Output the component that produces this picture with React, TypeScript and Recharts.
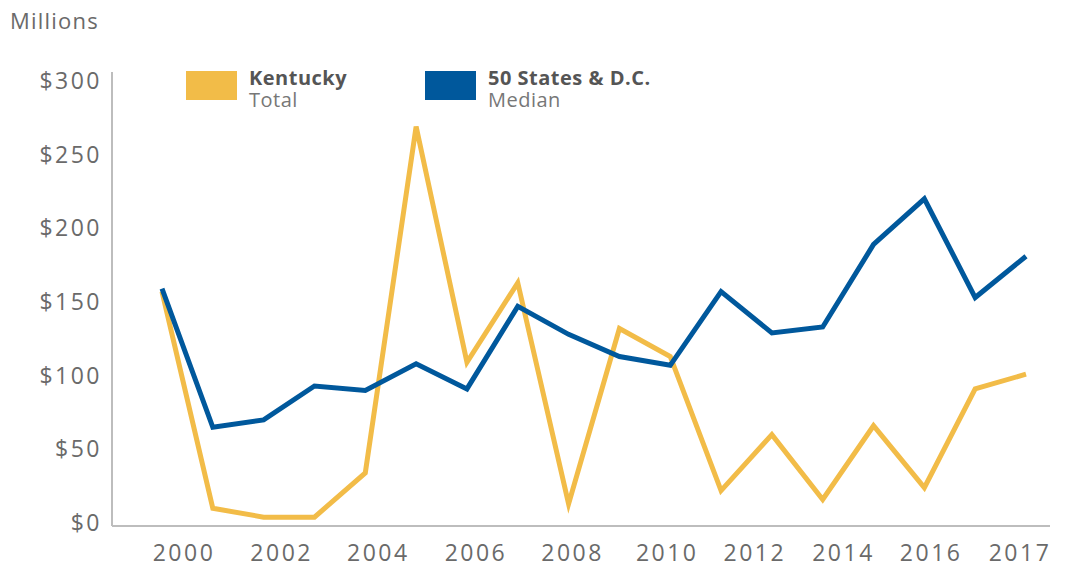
import React from 'react';
import { LineChart, Line, XAxis, YAxis } from 'recharts';

// years on the horizontal axis
const years = [
  2000, 2001, 2002, 2003, 2004, 2005, 2006, 2007, 2008,
  2009, 2010, 2011, 2012, 2013, 2014, 2015, 2016, 2017,
];
// Kentucky total, $ millions
const kentuckyTotal = [157, 10, 4, 4, 34, 269, 109, 163, 13, 132, 113, 22, 60, 16, 66, 24, 91, 101];
// 50 states & D.C. median, $ millions
const statesMedian = [159, 65, 70, 93, 90, 108, 91, 147, 128, 113, 107, 157, 129, 133, 189, 220, 153, 181];

const yTicks = [0, 50, 100, 150, 200, 250, 300];
const xTicks = [2000, 2002, 2004, 2006, 2008, 2010, 2012, 2014, 2016, 2017];

const data = years.map((year, i) => ({
  year,
  kentucky: kentuckyTotal[i],
  median: statesMedian[i],
}));

const YELLOW = '#F2BC48';
const BLUE = '#00589C';
const TEXT = '#6a6a6a';
const FONT = '"Open Sans", sans-serif';

// the year labels in the source sit a little off their data points
const labelShift: Record<number, number> = {
  2000: 22, 2002: 18, 2004: 13, 2006: 9, 2008: 4,
  2010: -3, 2012: -17, 2014: -30, 2016: -44, 2017: -6,
};

const XTick = (props: any) => {
  const { x, y, payload } = props;
  return (
    <text
      x={x + (labelShift[payload.value] ?? 0)}
      y={y + 35}
      textAnchor="middle"
      fill={TEXT}
      fontSize={23}
      fontFamily={FONT}
      letterSpacing={2.5}
    >
      {payload.value}
    </text>
  );
};

const YTick = (props: any) => {
  const { x, y, payload } = props;
  return (
    <text
      x={x}
      y={y + 8}
      textAnchor="end"
      fill={TEXT}
      fontSize={23}
      fontFamily={FONT}
      letterSpacing={2.5}
    >
      ${payload.value}
    </text>
  );
};

const LegendItem = ({ left, color, title, sub }: { left: number; color: string; title: string; sub: string }) => (
  <div style={{ position: 'absolute', left, top: 71, display: 'flex', fontFamily: FONT }}>
    <div style={{ width: 51, height: 29, background: color, marginRight: 12 }} />
    <div style={{ marginTop: -4 }}>
      <div style={{ fontWeight: 700, fontSize: 20, lineHeight: '22px', color: '#555', letterSpacing: 0.5 }}>{title}</div>
      <div style={{ fontSize: 20, lineHeight: '22px', color: '#777', letterSpacing: 0.5 }}>{sub}</div>
    </div>
  </div>
);

const App: React.FC = () => {
  return (
    <div style={{ position: 'absolute', left: 0, top: 0, width: 1065, height: 566, background: '#fff' }}>
      <div
        style={{
          position: 'absolute',
          left: 10,
          top: 5,
          fontFamily: FONT,
          fontSize: 22,
          color: TEXT,
          letterSpacing: 1.2,
        }}
      >
        Millions
      </div>
      <LineChart width={1065} height={566} data={data} margin={{ top: 72, right: 15, bottom: 0, left: 0 }}>
        <XAxis
          dataKey="year"
          ticks={xTicks}
          interval={0}
          padding={{ left: 50, right: 24 }}
          height={40}
          tickLine={false}
          tickSize={0}
          tickMargin={0}
          stroke="#BDBDBD"
          strokeWidth={2}
          tick={<XTick />}
        />
        <YAxis
          domain={[-2, 306]}
          ticks={yTicks}
          width={112}
          tickLine={false}
          tickSize={0}
          tickMargin={10}
          stroke="#BDBDBD"
          strokeWidth={2}
          tick={<YTick />}
        />
        <Line
          type="linear"
          dataKey="kentucky"
          stroke={YELLOW}
          strokeWidth={5}
          dot={false}
          isAnimationActive={false}
        />
        <Line
          type="linear"
          dataKey="median"
          stroke={BLUE}
          strokeWidth={5}
          dot={false}
          isAnimationActive={false}
        />
      </LineChart>
      <LegendItem left={186} color={YELLOW} title="Kentucky" sub="Total" />
      <LegendItem left={425} color={BLUE} title="50 States & D.C." sub="Median" />
    </div>
  );
};

export default App;
